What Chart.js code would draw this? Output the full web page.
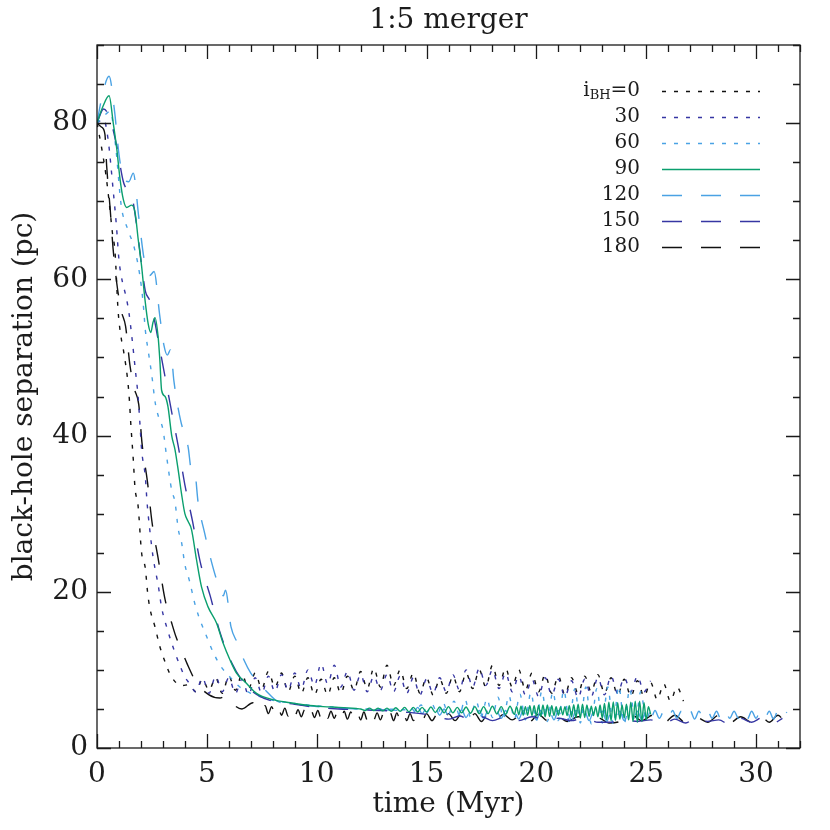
<!DOCTYPE html>
<html>
<head>
<meta charset="utf-8">
<title>1:5 merger</title>
<script src="https://cdn.jsdelivr.net/npm/chart.js@4.4.1/dist/chart.umd.min.js"></script>
<style>
  html, body { margin: 0; padding: 0; background: #ffffff; }
  canvas { display: block; }
</style>
</head>
<body>
<canvas id="mergerChart" width="830" height="830"></canvas>
<script>
// Black-hole separation vs time for the 1:5 merger, one run per BH inclination

const inclinations = ['0', '30', '60', '90', '120', '150', '180'];
const xMajorTicks = [0, 5, 10, 15, 20, 25, 30];
const yMajorTicks = [0, 20, 40, 60, 80];

// i_BH = 0
const time0 = [
  0, 0.2, 0.4, 0.55, 0.7, 0.82, 0.96, 1.1, 1.2, 1.45,
  1.55, 1.65, 1.73, 1.87, 2.03, 2.2, 2.3, 2.4, 2.64, 2.86,
  3.1, 3.3, 3.55, 3.85, 4.2,
  4.5, 4.8, 5.1, 5.4, 5.7, 6.0, 6.3, 6.6, 6.9, 7.2,
  7.5, 7.8, 8.1, 8.4, 8.7, 9.0, 9.3, 9.6, 9.9, 10.2,
  10.5, 10.8, 11.1, 11.4, 11.7, 12.0, 12.3, 12.6, 12.9, 13.2,
  13.5, 13.8, 14.1, 14.4, 14.7, 15.0, 15.3, 15.6, 15.9, 16.2,
  16.5, 16.8, 17.1, 17.4, 17.7, 18.0, 18.3, 18.6, 18.9, 19.2,
  19.5, 19.8, 20.1, 20.4, 20.7, 21.0, 21.3, 21.6, 21.9, 22.2,
  22.5, 22.8, 23.1, 23.4, 23.7, 24.0, 24.3, 24.6, 24.9, 25.2,
  25.5, 25.8, 26.1, 26.4, 26.7
];
const sep0 = [
  80, 77, 73.5, 70, 66, 63.5, 56, 52.5, 51, 45.5,
  41, 37, 33.3, 31, 25, 23, 20, 18, 15.5, 13,
  11, 9.6, 8.5, 8.0, 8.1,
  7.2, 8.8, 7.4, 9.0, 7.0, 9.2, 7.4, 9.4, 7.6, 9.6,
  7.6, 9.8, 7.8, 9.6, 7.2, 9.2, 7.0, 9.0, 6.8, 8.8,
  6.8, 9.0, 7.0, 9.2, 7.4, 9.8, 7.6, 10.2, 7.8, 10.6,
  8.0, 10.0, 7.6, 9.6, 7.0, 9.0, 6.8, 8.8, 7.0, 9.2,
  7.2, 9.6, 7.6, 10.0, 7.8, 10.6, 8.0, 10.2, 7.8, 10.0,
  7.4, 9.6, 7.2, 9.4, 7.0, 9.2, 6.8, 9.0, 7.0, 9.2,
  7.2, 9.4, 7.0, 9.0, 6.8, 8.8, 6.6, 8.6, 6.6, 8.4,
  6.2, 8.2, 6.0, 7.8, 6.0
];

// i_BH = 30
const time30 = [
  0, 0.3, 0.5, 0.75, 0.88, 1.0, 1.1, 1.35, 1.45, 1.6,
  1.73, 1.87, 1.95, 2.03, 2.2, 2.28, 2.4, 2.55, 2.8, 2.94,
  3.17, 3.55, 3.77, 4.0, 4.2,
  4.5, 4.8, 5.1, 5.4, 5.7, 6.0, 6.3, 6.6, 6.9, 7.2,
  7.5, 7.8, 8.1, 8.4, 8.7, 9.0, 9.3, 9.6, 9.9, 10.2,
  10.5, 10.8, 11.1, 11.4, 11.7, 12.0, 12.3, 12.6, 12.9, 13.2,
  13.5, 13.8, 14.1, 14.4, 14.7, 15.0, 15.3, 15.6, 15.9, 16.2,
  16.5, 16.8, 17.1, 17.4, 17.7, 18.0, 18.3, 18.6, 18.9, 19.2,
  19.5, 19.8, 20.1, 20.4, 20.7, 21.0, 21.3, 21.6, 21.9, 22.2,
  22.5, 22.8, 23.1, 23.4, 23.7, 24.0, 24.3, 24.6, 24.9, 25.2
];
const sep30 = [
  80, 80.5, 78, 71, 67, 62.5, 60.5, 57.4, 55.8, 52.3,
  48.8, 45, 41.7, 38.2, 34.7, 31.4, 28, 24.5, 20.6, 18,
  15.5, 12.2, 10.6, 9.1, 8.3,
  7.2, 9.0, 7.0, 9.2, 7.2, 9.0, 7.0, 8.8, 6.8, 9.0,
  7.0, 9.2, 7.2, 9.4, 7.4, 9.6, 7.6, 10.0, 8.0, 10.8,
  8.2, 10.6, 7.8, 9.8, 7.4, 9.4, 7.2, 9.2, 7.4, 9.4,
  7.2, 9.2, 7.0, 9.0, 6.8, 8.8, 7.0, 9.0, 7.2, 9.4,
  7.4, 10.0, 7.8, 10.2, 8.0, 10.0, 7.6, 9.6, 7.2, 9.2,
  6.8, 8.8, 6.6, 9.0, 6.8, 8.8, 6.6, 8.6, 6.4, 8.8,
  6.6, 9.0, 6.8, 9.2, 7.0, 9.0, 7.2, 9.2, 7.2, 8.6
];

// i_BH = 60
const time60 = [
  0, 0.35, 0.6, 0.85, 1.1, 1.4, 1.7, 1.95, 2.1, 2.2,
  2.35, 2.5, 2.65, 2.8, 3.0, 3.17, 3.4, 3.55, 3.7, 3.85,
  4.0, 4.2, 4.5, 5.0, 5.3, 5.6, 6.05, 6.5, 7.0, 7.5,
  8.0, 9.0, 10.0, 11.0, 12.0, 13.0, 14.0,
  14.25, 14.5, 14.75, 15.0, 15.25, 15.5, 15.75, 16.0, 16.25, 16.5,
  16.75, 17.0, 17.25, 17.5, 17.75, 18.0, 18.25, 18.5, 18.75, 19.0,
  19.25, 19.5, 19.75, 20.0, 20.25, 20.5, 20.75, 21.0, 21.25, 21.5,
  21.75, 22.0, 22.25, 22.5, 22.75, 23.0, 23.25, 23.5, 23.75, 24.0,
  24.25, 24.5, 24.75, 25.0, 25.2
];
const sep60 = [
  80, 81, 81.5, 77, 69.5, 66.4, 64, 60.5, 57, 53.5,
  50.5, 47.6, 44.2, 42.4, 40.8, 37.3, 33, 31.5, 28, 26.3,
  23.5, 21.5, 18, 14.2, 12.2, 10.6, 9.1, 7.8, 7.0, 6.5,
  6.1, 5.7, 5.4, 5.2, 5.0, 5.0, 4.9,
  5.3, 4.6, 5.5, 4.5, 5.6, 4.4, 5.8, 4.3, 6.0, 4.2,
  6.2, 4.0, 6.0, 4.1, 6.3, 3.9, 6.5, 3.8, 6.7, 3.7,
  6.9, 3.6, 7.1, 3.5, 7.3, 3.4, 7.2, 3.5, 7.4, 3.3,
  7.6, 3.2, 7.8, 3.1, 7.6, 3.2, 7.8, 3.0, 7.9, 3.1,
  7.6, 3.3, 7.2, 3.6, 5.0
];

// i_BH = 90
const time90 = [
  0, 0.25, 0.55, 0.74, 0.9, 1.05, 1.2, 1.35, 1.58, 1.73,
  1.88, 2.03, 2.18, 2.33, 2.45, 2.55, 2.64, 2.78, 2.86, 2.94,
  3.1, 3.23, 3.4, 3.55, 3.7, 3.85, 4.0, 4.15, 4.3, 4.53,
  4.76, 5.05, 5.44, 5.73, 6.05, 6.35, 6.8, 7.26, 8.0, 8.8,
  9.5, 10.3, 11.0, 11.8,
  12.0, 12.2, 12.4, 12.6, 12.8, 13.0, 13.2, 13.4, 13.6, 13.8,
  14.0, 14.2, 14.4, 14.6, 14.8, 15.0, 15.2, 15.4, 15.6, 15.8,
  16.0, 16.2, 16.4, 16.6, 16.8, 17.0, 17.2, 17.4, 17.6, 17.8,
  18.0, 18.2, 18.4, 18.6, 18.8, 19.0,
  19.1, 19.2, 19.3, 19.4, 19.5, 19.6, 19.7, 19.8, 19.9, 20.0,
  20.1, 20.2, 20.3, 20.4, 20.5, 20.6, 20.7, 20.8, 20.9, 21.0,
  21.1, 21.2, 21.3, 21.4, 21.5, 21.6, 21.7, 21.8, 21.9, 22.0,
  22.1, 22.2, 22.3, 22.4, 22.5, 22.6, 22.7, 22.8, 22.9, 23.0,
  23.1, 23.2, 23.3, 23.4, 23.5, 23.6, 23.7, 23.8, 23.9, 24.0,
  24.1, 24.2, 24.3, 24.4, 24.5, 24.6, 24.7, 24.8, 24.9, 25.0,
  25.1, 25.2
];
const sep90 = [
  80, 82, 83.5, 80, 76.7, 72.8, 70.2, 69.2, 69.5, 68.6,
  65, 61.7, 57.5, 54.3, 53.2, 54.5, 55.1, 52.7, 49.7, 45.8,
  45, 43.7, 40, 38.2, 35.5, 32.5, 30, 29, 28, 24.1,
  20.6, 18.1, 16, 13.5, 11.3, 9.6, 8.3, 7.0, 6.2, 5.8,
  5.5, 5.3, 5.2, 5.05,
  5.0, 4.8, 5.1, 4.8, 5.1, 4.75, 5.1, 4.7, 5.15, 4.7,
  5.2, 4.65, 5.2, 4.6, 5.2, 4.6, 5.25, 4.55, 5.25, 4.5,
  5.3, 4.5, 5.2, 4.5, 5.25, 4.45, 5.3, 4.4, 5.3, 4.4,
  5.35, 4.35, 5.3, 4.3, 5.35, 4.3,
  5.3, 4.25, 5.35, 4.2, 5.3, 4.2, 5.4, 4.15, 5.4, 4.1,
  5.45, 4.05, 5.5, 4.0, 5.5, 4.05, 5.4, 4.15, 5.3, 4.2,
  5.25, 4.25, 5.3, 4.15, 5.4, 4.0, 5.55, 3.9, 5.6, 3.85,
  5.6, 3.9, 5.5, 4.05, 5.35, 4.15, 5.3, 4.0, 5.5, 3.8,
  5.7, 3.6, 5.85, 3.5, 5.9, 3.55, 5.8, 3.7, 5.5, 3.85,
  5.6, 3.6, 5.85, 3.4, 6.0, 3.3, 6.0, 3.4, 5.8, 3.6,
  5.3, 4.3
];

// i_BH = 120
const time120 = [
  0, 0.2, 0.55, 0.8, 1.0, 1.2, 1.45, 1.65, 1.9, 2.15,
  2.4, 2.6, 2.85, 3.05, 3.2, 3.35, 3.5, 3.8, 4.15, 4.3,
  4.45, 4.6, 4.9, 5.15, 5.45, 5.75, 5.85, 6.1, 6.4, 6.7,
  7.0, 7.3, 7.7, 8.2, 9.0, 10.0, 11.0, 12.0, 13.0, 14.0,
  14.2, 14.4, 14.6, 14.8, 15.0, 15.2, 15.4, 15.6, 15.8, 16.0,
  16.2, 16.4, 16.6, 16.8, 17.0, 17.2, 17.4, 17.6, 17.8, 18.0,
  18.2, 18.4, 18.6, 18.8, 19.0, 19.2, 19.4, 19.6, 19.8, 20.0,
  20.2, 20.4, 20.6, 20.8, 21.0, 21.2, 21.4, 21.6, 21.8, 22.0,
  22.2, 22.4, 22.6, 22.8, 23.0, 23.2, 23.4, 23.6, 23.8, 24.0,
  24.2, 24.4, 24.6, 24.8, 25.0, 25.2, 25.4, 25.6, 25.8, 26.0,
  26.2, 26.4, 26.6, 26.8, 27.0, 27.2, 27.4, 27.6, 27.8, 28.0,
  28.2, 28.4, 28.6, 28.8, 29.0, 29.2, 29.4, 29.6, 29.8, 30.0,
  30.2, 30.4, 30.6, 30.8, 31.0, 31.2, 31.4
];
const sep120 = [
  80, 83, 86, 81.5, 76, 73, 72.5, 73.6, 68, 62.5,
  60.5, 61, 55.5, 51.5, 50.3, 51, 47, 42, 38.5, 35.5,
  35.3, 31.5, 27.5, 24.5, 21.5, 19.5, 20.2, 15.5, 13.4, 11.2,
  9.6, 8.6, 7.3, 6.0, 5.6, 5.3, 5.1, 5.0, 4.9, 4.8,
  5.1, 4.5, 5.2, 4.4, 5.1, 4.3, 5.0, 4.2, 5.0, 4.1,
  4.9, 4.0, 4.9, 3.9, 4.8, 3.9, 4.8, 3.8, 4.8, 3.8,
  4.7, 3.8, 4.8, 3.7, 4.7, 3.7, 4.8, 3.7, 4.7, 3.6,
  4.8, 3.7, 4.7, 3.6, 4.8, 3.6, 4.7, 3.5, 4.8, 3.6,
  4.7, 3.5, 4.6, 3.5, 4.7, 3.4, 4.6, 3.5, 4.7, 3.5,
  4.6, 3.6, 4.7, 3.6, 4.8, 3.7, 4.8, 3.8, 4.7, 3.7,
  4.8, 3.8, 4.7, 3.8, 4.8, 3.7, 4.7, 3.8, 4.8, 3.8,
  4.7, 3.7, 4.8, 3.8, 4.7, 3.8, 4.8, 3.7, 4.7, 3.8,
  4.8, 3.8, 4.7, 3.7, 4.8, 3.8, 4.6
];

// i_BH = 150
const time150 = [
  0, 0.3, 0.6, 0.9, 1.2, 1.4, 1.6, 1.8, 2.0, 2.2,
  2.4, 2.6, 2.8, 3.1, 3.4, 3.7, 4.0, 4.35, 4.7, 5.15,
  5.6, 6.15, 6.7, 7.3, 8.0, 9.0, 10.0, 11.0, 12.0, 13.0,
  14.0, 15.0, 15.5, 16.0, 16.5, 17.0, 17.5, 18.0, 18.6, 19.2,
  19.8, 20.4, 21.0, 21.6, 22.2, 22.8, 23.4, 24.0, 24.6, 25.2,
  25.8, 26.3, 26.8, 27.3, 27.8, 28.3, 28.8, 29.3, 29.8, 30.3,
  30.8, 31.2
];
const sep150 = [
  80, 81.8, 80.5, 77, 72.5, 71.3, 70.5, 67, 62.5, 58.5,
  57.3, 55, 52, 47.5, 43, 38.6, 33.7, 29, 23.8, 19.5,
  14.8, 10.8, 8.3, 6.8, 6.0, 5.6, 5.2, 5.0, 4.9, 4.8,
  4.6, 4.3, 4.0, 3.7, 4.1, 3.6, 4.0, 3.5, 4.0, 3.5,
  4.0, 3.6, 3.8, 3.5, 3.9, 3.3, 3.3, 3.6, 3.4, 3.6,
  3.1, 3.7, 3.2, 4.0, 3.4, 3.6, 3.0, 3.8, 3.3, 3.9,
  3.2, 3.8
];

// i_BH = 180
const time180 = [
  0, 0.2, 0.36, 0.44, 0.6, 0.73, 0.9, 1.1, 1.3, 1.5,
  1.7, 1.9, 2.05, 2.3, 2.5, 2.8, 3.1, 3.4, 3.6, 3.85,
  4.1, 4.5, 5.1, 5.6, 5.9, 6.2, 6.6, 7.1,
  7.5, 7.65, 7.8, 7.95, 8.1, 8.25, 8.4, 8.55, 8.7, 8.85,
  9.0, 9.15, 9.3, 9.45, 9.6, 9.75, 9.9, 10.05, 10.2, 10.35,
  10.5, 10.65, 10.8, 10.95, 11.1, 11.25, 11.4, 11.55, 11.7, 11.85,
  12.0, 12.15, 12.3, 12.45, 12.6, 12.75, 12.9, 13.05, 13.2, 13.35,
  13.5, 13.65, 13.8, 13.95, 14.1, 14.25, 14.4, 14.6, 14.8, 15.0,
  15.25, 15.5, 15.75, 16.0, 16.3, 16.6, 16.9, 17.2, 17.5, 17.8,
  18.1, 18.5, 18.9, 19.3, 19.7, 20.1, 20.5, 20.9, 21.4, 21.9,
  22.4, 22.9, 23.3, 23.8, 24.3, 24.8, 25.3, 25.8, 26.3, 26.8,
  27.3, 27.8, 28.3, 28.8, 29.3, 29.8, 30.2, 30.6, 31.0, 31.3
];
const sep180 = [
  80, 79.5, 78.6, 74.5, 69, 64, 59.5, 56, 54, 49,
  46, 44, 39, 34, 29, 24, 19, 16, 14.2, 12.5,
  10.8, 8.5, 6.8, 6.4, 6.7, 5.6, 5.0, 5.8,
  4.6, 5.4, 4.4, 5.3, 4.3, 5.2, 4.2, 5.1, 4.1, 5.0,
  4.0, 4.9, 4.0, 4.9, 3.9, 4.8, 3.9, 4.8, 3.8, 4.8,
  3.8, 4.7, 3.8, 4.7, 3.7, 4.7, 3.7, 4.6, 3.7, 4.6,
  3.6, 4.6, 3.6, 4.6, 3.6, 4.5, 3.6, 4.5, 3.6, 4.5,
  3.5, 4.5, 3.5, 4.5, 3.5, 4.4, 3.5, 4.4, 3.5, 4.4,
  3.5, 4.4, 3.5, 4.4, 3.5, 4.4, 3.5, 4.4, 3.4, 4.4,
  3.5, 4.3, 3.6, 4.3, 3.4, 4.3, 3.5, 4.2, 3.4, 4.0,
  4.0, 3.8, 3.2, 3.4, 4.3, 3.5, 4.2, 3.2, 4.2, 3.2,
  3.9, 3.3, 4.2, 3.2, 4.0, 3.3, 4.1, 3.3, 4.2, 3.3
];

const FONT = '"DejaVu Serif", "Liberation Serif", serif';
const BLACK = '#111111';
const TEXT = '#1c1c1c';
const DARK_BLUE = '#3636a3';
const LIGHT_BLUE = '#4aa2e4';
const GREEN = '#0a9f6e';
const DOTTED = [4, 8];
const LONG_DASH = [20, 19];

function toPoints(times, seps) {
    return times.map((t, i) => ({ x: t, y: seps[i] }));
}

// one dataset per inclination; "order" puts the 90 deg run on top
const runs = [
    { times: time0, seps: sep0, color: BLACK, dash: DOTTED, order: 5 },
    { times: time30, seps: sep30, color: DARK_BLUE, dash: DOTTED, order: 4 },
    { times: time60, seps: sep60, color: LIGHT_BLUE, dash: DOTTED, order: 3 },
    { times: time90, seps: sep90, color: GREEN, dash: [], order: 0 },
    { times: time120, seps: sep120, color: LIGHT_BLUE, dash: LONG_DASH, order: 2 },
    { times: time150, seps: sep150, color: DARK_BLUE, dash: LONG_DASH, order: 1 },
    { times: time180, seps: sep180, color: BLACK, dash: LONG_DASH, order: 6 }
];

const datasets = runs.map((run, i) => ({
    label: inclinations[i],
    data: toPoints(run.times, run.seps),
    borderColor: run.color,
    backgroundColor: run.color,
    borderDash: run.dash,
    borderWidth: 1.4,
    pointRadius: 0,
    fill: false,
    cubicInterpolationMode: 'monotone',
    order: run.order
}));

// Frame with inward ticks on all four sides
const frameTicks = {
    id: 'frameTicks',
    afterDraw(chart) {
        const { ctx, chartArea: a } = chart;
        const xs = chart.scales.x;
        const ys = chart.scales.y;
        ctx.save();
        ctx.strokeStyle = '#1a1a1a';
        ctx.lineWidth = 1.3;
        ctx.setLineDash([]);
        ctx.strokeRect(a.left, a.top, a.right - a.left, a.bottom - a.top);
        ctx.beginPath();
        for (let t = 0; t <= 32; t += 1) {
            const px = Math.round(xs.getPixelForValue(t)) + 0.5;
            const len = xMajorTicks.includes(t) ? 14 : 7;
            ctx.moveTo(px, a.bottom);
            ctx.lineTo(px, a.bottom - len);
            ctx.moveTo(px, a.top);
            ctx.lineTo(px, a.top + len);
        }
        for (let v = 0; v <= 90; v += 5) {
            const py = Math.round(ys.getPixelForValue(v)) + 0.5;
            const len = yMajorTicks.includes(v) ? 14 : 7;
            ctx.moveTo(a.left, py);
            ctx.lineTo(a.left + len, py);
            ctx.moveTo(a.right, py);
            ctx.lineTo(a.right - len, py);
        }
        ctx.stroke();
        ctx.restore();
    }
};

// Legend: labels right-aligned, sample line to their right
const inclinationLegend = {
    id: 'inclinationLegend',
    afterDatasetsDraw(chart) {
        const ctx = chart.ctx;
        const textRight = 640;
        const lineStart = 662;
        const lineEnd = 760;
        ctx.save();
        ctx.fillStyle = TEXT;
        ctx.textBaseline = 'middle';
        ctx.textAlign = 'right';
        chart.data.datasets.forEach((ds, i) => {
            const y = 91 + 26 * i;
            ctx.font = '20px ' + FONT;
            if (i === 0) {
                const tail = '=' + ds.label;
                ctx.fillText(tail, textRight, y);
                const wTail = ctx.measureText(tail).width;
                ctx.font = '13px ' + FONT;
                ctx.fillText('BH', textRight - wTail, y + 5);
                const wSub = ctx.measureText('BH').width;
                ctx.font = '20px ' + FONT;
                ctx.fillText('i', textRight - wTail - wSub, y);
            } else {
                ctx.fillText(ds.label, textRight, y);
            }
            ctx.beginPath();
            ctx.strokeStyle = ds.borderColor;
            ctx.lineWidth = 1.4;
            ctx.setLineDash(ds.borderDash);
            ctx.moveTo(lineStart, y + 0.5);
            ctx.lineTo(lineEnd, y + 0.5);
            ctx.stroke();
        });
        ctx.restore();
    }
};

const ctx = document.getElementById('mergerChart').getContext('2d');

new Chart(ctx, {
    type: 'line',
    data: { datasets: datasets },
    options: {
        responsive: false,
        animation: false,
        events: [],
        layout: { padding: { left: 0, right: 30, top: 0, bottom: 0 } },
        plugins: {
            legend: { display: false },
            tooltip: { enabled: false },
            title: {
                display: true,
                text: '1:5 merger',
                fullSize: false,
                color: TEXT,
                font: { family: FONT, size: 28, weight: 'normal', lineHeight: 1.2 },
                padding: { top: 4, bottom: 7.4 }
            }
        },
        scales: {
            x: {
                type: 'linear',
                min: 0,
                max: 32,
                grid: { display: false, drawTicks: false },
                border: { display: false },
                ticks: {
                    stepSize: 5,
                    includeBounds: false,
                    maxRotation: 0,
                    padding: 10,
                    color: TEXT,
                    font: { family: FONT, size: 28 }
                },
                title: {
                    display: true,
                    text: 'time (Myr)',
                    color: TEXT,
                    font: { family: FONT, size: 28, lineHeight: 1.2 },
                    padding: { top: 0, bottom: 8 }
                },
                afterFit: (scale) => { scale.height = 82; }
            },
            y: {
                type: 'linear',
                min: 0,
                max: 90,
                grid: { display: false, drawTicks: false },
                border: { display: false },
                ticks: {
                    stepSize: 20,
                    includeBounds: false,
                    padding: 9,
                    color: TEXT,
                    font: { family: FONT, size: 28 }
                },
                title: {
                    display: true,
                    text: 'black-hole separation (pc)',
                    color: TEXT,
                    font: { family: FONT, size: 28, lineHeight: 1.2 },
                    padding: { top: 8, bottom: 0 }
                },
                afterFit: (scale) => { scale.width = 97; }
            }
        }
    },
    plugins: [frameTicks, inclinationLegend]
});
</script>
</body>
</html>
